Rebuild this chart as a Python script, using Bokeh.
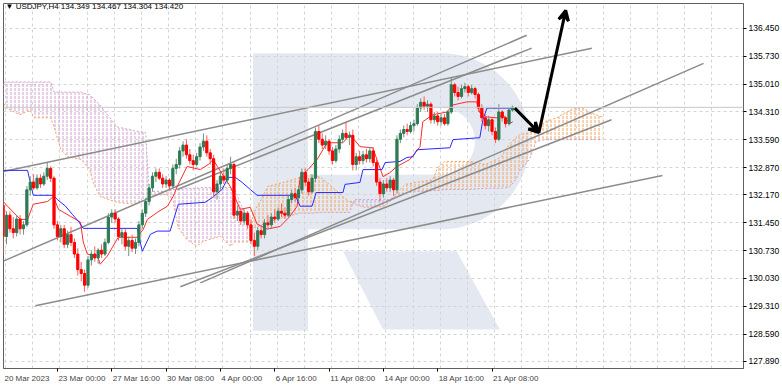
import numpy as np
from bokeh.plotting import figure
from bokeh.models import FixedTicker, Label, Arrow, VeeHead, Span, Range1d, NumeralTickFormatter
from bokeh.embed import file_html
from bokeh.resources import INLINE

# ---------------- data ----------------
bars = list(range(-16, 135))
ohlc = [
    (131.90,132.00,130.60,131.10),(131.10,131.75,130.90,131.65),(131.65,131.75,131.20,131.30),
    (131.30,131.60,131.05,131.20),(131.20,131.65,131.10,131.55),(131.55,131.65,131.15,131.30),
    (131.30,131.50,131.15,131.40),(131.40,132.40,131.35,132.30),(132.30,132.65,132.15,132.50),
    (132.50,132.70,132.30,132.35),(132.35,132.70,132.30,132.60),(132.60,132.70,132.35,132.45),
    (132.45,132.75,132.40,132.65),(132.65,133.00,132.55,132.85),(132.85,132.90,132.50,132.60),
    (132.60,132.65,131.30,131.40),
    (131.40,131.50,131.00,131.10),(131.10,131.40,130.95,131.30),(131.30,131.40,130.80,130.90),
    (130.90,131.25,130.80,131.15),(131.15,131.35,130.85,130.95),(130.95,131.05,130.55,130.65),
    (130.65,130.80,130.10,130.25),(130.25,130.45,129.95,130.15),(130.15,130.25,129.68,129.85),
    (129.85,130.60,129.78,130.50),(130.50,130.75,130.35,130.65),(130.65,130.85,130.45,130.55),
    (130.55,130.80,130.40,130.75),(130.75,130.90,130.55,130.65),(130.65,131.05,130.60,130.95),
    (130.95,131.70,130.90,131.60),(131.60,131.80,131.45,131.70),(131.70,131.80,131.45,131.55),
    (131.55,131.60,131.00,131.10),(131.10,131.30,130.90,131.20),(131.20,131.30,130.75,130.85),
    (130.85,131.10,130.60,131.00),(131.00,131.15,130.70,130.80),(130.80,131.05,130.65,130.95),
    (130.95,131.50,130.85,131.40),(131.40,131.80,131.30,131.70),(131.70,132.10,131.60,132.00),
    (132.00,132.45,131.90,132.35),(132.35,132.75,132.25,132.65),(132.65,132.85,132.50,132.75),
    (132.75,132.85,132.55,132.60),
    (132.60,132.70,132.35,132.45),(132.45,132.65,132.35,132.55),(132.55,132.60,132.30,132.40),
    (132.40,132.95,132.35,132.85),(132.85,133.10,132.70,132.95),(132.95,133.40,132.85,133.30),
    (133.30,133.55,133.15,133.45),(133.45,133.60,133.10,133.20),(133.20,133.35,132.95,133.05),
    (133.05,133.20,132.80,132.95),(132.95,133.25,132.90,133.15),(133.15,133.50,133.05,133.40),
    (133.40,133.75,133.30,133.55),(133.55,133.70,133.15,133.25),(133.25,133.35,132.95,133.10),
    (133.10,133.20,132.10,132.25),(132.25,132.55,132.05,132.45),(132.45,132.75,132.30,132.65),
    (132.65,132.85,132.45,132.55),(132.55,132.95,132.45,132.85),(132.85,133.15,132.70,132.95),
    (132.95,133.00,131.55,131.65),(131.65,131.90,131.50,131.75),(131.75,131.85,131.40,131.50),
    (131.50,131.80,131.40,131.70),(131.70,131.75,131.30,131.40),(131.40,131.55,130.90,131.00),
    (131.00,131.20,130.60,130.85),(130.85,131.35,130.75,131.25),(131.25,131.40,131.05,131.15),
    (131.15,131.55,131.05,131.45),(131.45,131.65,131.30,131.40),(131.40,131.70,131.30,131.60),
    (131.60,131.80,131.45,131.55),(131.55,131.85,131.50,131.75),(131.75,131.95,131.60,131.70),
    (131.70,131.85,131.55,131.65),(131.65,132.15,131.60,132.05),(132.05,132.30,131.95,132.20),
    (132.20,132.35,132.00,132.10),(132.10,132.40,132.00,132.30),(132.30,132.85,132.20,132.75),
    (132.75,132.85,132.40,132.50),(132.50,132.60,132.15,132.25),(132.25,132.70,132.20,132.60),
    (132.60,133.90,132.50,133.80),(133.80,133.95,133.50,133.60),(133.60,133.75,133.35,133.45),
    (133.45,133.70,133.35,133.55),(133.55,133.60,133.20,133.30),(133.30,133.40,132.95,133.05),
    (133.05,133.45,133.00,133.35),(133.35,133.70,133.25,133.60),(133.60,133.85,133.50,133.75),
    (133.75,134.05,133.60,133.65),(133.65,133.80,133.45,133.70),(133.70,133.85,132.80,132.95),
    (132.95,133.25,132.80,133.15),(133.15,133.30,132.95,133.05),(133.05,133.30,132.95,133.20),
    (133.20,133.35,133.00,133.10),(133.10,133.40,133.00,133.30),(133.30,133.40,132.90,133.00),
    (133.00,133.10,132.40,132.50),(132.50,132.60,132.00,132.20),(132.20,132.55,132.10,132.45),
    (132.45,132.60,132.25,132.35),(132.35,132.65,132.25,132.55),(132.55,132.60,132.15,132.30),
    (132.30,133.70,132.20,133.60),(133.60,133.85,133.50,133.75),(133.75,133.95,133.65,133.85),
    (133.85,134.00,133.70,133.80),(133.80,134.05,133.75,133.95),(133.95,134.10,133.80,134.00),
    (134.00,134.50,133.95,134.40),(134.40,134.65,134.30,134.55),(134.55,134.70,134.35,134.45),
    (134.45,134.60,134.30,134.50),(134.50,134.55,134.00,134.10),(134.10,134.30,134.00,134.20),
    (134.20,134.30,133.95,134.05),(134.05,134.25,133.95,134.15),(134.15,134.25,133.95,134.00),
    (134.00,134.35,133.95,134.30),(134.30,135.20,134.25,135.00),(135.00,135.05,134.70,134.80),
    (134.80,134.95,134.60,134.70),(134.70,135.00,134.65,134.90),(134.90,135.05,134.80,134.95),
    (134.95,135.00,134.70,134.80),(134.80,135.00,134.75,134.90),(134.90,134.95,134.65,134.75),
    (134.75,134.80,134.30,134.40),(134.40,134.50,134.05,134.15),(134.15,134.25,133.85,133.95),
    (133.95,134.20,133.80,134.10),(134.10,134.15,133.70,133.80),(133.80,133.90,133.50,133.60),
    (133.60,134.50,133.55,134.30),(134.30,134.35,134.05,134.15),(134.15,134.20,133.90,134.00),
    (134.00,134.40,133.95,134.35),(134.349,134.467,134.304,134.420),
]
opens = [r[0] for r in ohlc]
highs = [r[1] for r in ohlc]
lows = [r[2] for r in ohlc]
closes = [r[3] for r in ohlc]

# Ichimoku lines (bar index, price)
tenkan_x = [-17,-14.7,-10.9,-8.8,-7.1,-2.9,-1.2,0.3,3.8,6.8,7.6,8.8,11.8,12.6,14.7,17.9,23.5,25.3,26.5,29.4,32.4,34.1,35.3,38.2,42.1,44.4,45.9,47.1,50.9,53.8,56.8,58.8,61.8,65.6,68.5,70.6,71.5,73.8,76.5,79.4,84.1,86.2,89.1,92.9,94.1,95.9,97.9,100,103.8,106.8,107.6,110.6,114.7,116.5,120.6,123.5,124.4,126.5,129.4,131.2,133.2,134.1]
tenkan_y = [132.10,131.88,131.54,131.54,131.93,132.00,132.13,131.80,131.62,131.47,130.96,130.65,130.60,130.39,130.60,131.08,131.08,131.29,131.54,131.72,131.88,132.13,132.39,132.90,132.82,132.95,133.08,132.90,132.39,131.80,131.85,131.42,131.29,131.36,131.62,131.88,132.64,132.82,133.08,133.51,133.51,133.72,133.41,133.38,133.08,132.64,132.74,132.90,133.08,133.41,134.05,134.23,134.30,134.48,134.56,134.56,134.28,134.17,134.15,134.23,134.00,134.05]
kijun_x = [-17,-8.8,-7.1,-1.2,0,2.4,4.4,6.2,7.6,23.5,25,27.4,29.4,33.2,35.6,43.5,45.6,48.5,50.3,52.4,54.4,56.8,58.8,70,71.5,75,76.2,84.1,84.7,89.1,90,95.6,96.5,100.9,102.9,104.7,105.9,115.6,116.5,124.4,125.3,126.5,134.1]
kijun_y = [132.80,132.80,132.16,132.16,132.05,131.88,131.67,131.49,131.31,131.31,130.72,131.16,131.24,131.24,131.93,131.98,132.10,132.31,132.62,132.62,132.49,132.31,132.16,132.16,131.88,131.88,132.23,132.23,132.44,132.49,132.82,132.82,133.00,133.03,133.13,133.15,133.33,133.38,133.59,133.64,134.10,134.40,134.40]
cloud_x = [-17,-15,-11,-8,-7,-2,-1,1,3,7,9.5,10.5,12.5,17.5,22.5,26,27,32,34,35.5,38,41,43,45,48,51,52,54,57,57.5,60,62,66.5,71.5,75,77.5,80.5,84,86,87.5,90.5,96,98,100,102.5,107,110.5,112,114,121.5,126,130.5,133,135,136,139,141,143.5,147,152,155,157,160.5]
span_a = [134.69,134.40,134.23,134.35,134.15,134.15,133.92,133.33,133.15,133.08,132.82,132.49,132.13,131.98,131.93,132.05,132.16,132.18,132.05,131.34,131.03,130.85,130.98,131.03,131.11,130.85,130.96,130.96,130.96,131.67,132.05,132.39,132.49,132.62,132.69,132.62,132.41,132.13,132.00,131.93,131.85,131.87,132.00,132.23,132.44,132.51,132.56,132.87,133.03,133.03,132.95,133.13,133.46,133.64,133.71,133.77,133.79,134.05,134.15,134.40,134.40,134.28,134.17]
span_b = [135.07,135.07,135.07,135.07,135.07,135.07,134.81,134.81,134.81,134.81,134.74,134.66,134.48,133.92,133.82,133.77,132.26,132.26,132.31,132.31,132.34,132.34,132.36,132.36,132.36,132.36,132.36,131.93,131.42,131.31,131.39,131.47,131.59,131.70,131.70,131.72,131.72,131.72,131.72,132.05,132.05,132.05,132.05,132.16,132.23,132.26,132.28,132.28,132.31,132.31,132.34,132.34,132.36,132.56,132.77,133.08,133.54,133.59,133.59,133.59,133.59,133.59,133.59]

# analyst trend lines (bar, price) endpoints
trend_x0 = [-15.9,-15.9,35.3,-6.5,42.1,36.2]
trend_y0 = [132.77,130.47,132.31,129.32,129.91,129.81]
trend_x1 = [157.4,138.2,139.7,178.2,190.3,163.2]
trend_y1 = [135.94,136.27,135.94,132.67,135.55,134.10]
arrow_x = [134.7, 141.8, 149.7]
arrow_y = [134.40, 133.77, 136.91]

y_ticks = [127.89,128.59,129.31,130.03,130.73,131.45,132.17,132.87,133.59,134.31,135.01,135.73,136.45]
x_ticks = [-15.88,0,16,32,48,64,80,96,112,128]
x_labels = ["20 Mar 2023","23 Mar 00:00","27 Mar 16:00","30 Mar 08:00","4 Apr 00:00","6 Apr 16:00","11 Apr 08:00","14 Apr 00:00","18 Apr 16:00","21 Apr 08:00"]
last_price = 134.42
title_text = "USDJPY,H4  134.349 134.467 134.304 134.420"

# ---------------- figure ----------------
FONT = "Liberation Sans"
X0, X1 = -15.88, 202.06
FRAME_W = 741
p = figure(width=782, height=385, output_backend="svg", toolbar_location=None,
           x_range=Range1d(X0, X1), y_range=Range1d(127.71, 137.087),
           y_axis_location="right", min_border_left=3, min_border_top=3,
           min_border_right=38, min_border_bottom=15)
p.background_fill_color = "white"
p.border_fill_color = "white"
p.outline_line_color = "#606060"
p.outline_line_width = 1

# watermark "R" (background decoration, in chart units)
wm = "#e4e9f1"
t = np.linspace(np.pi/2, -np.pi/2, 48)
stem_x = [57.6, 73.8, 73.8, 57.6]
stem_y = [135.81, 135.81, 128.68, 128.68]
bowl_x = [73.8] + list(113.1 + 26.0*np.cos(t)) + [73.8]
bowl_y = [135.81] + list(133.55 + 2.261*np.sin(t)) + [131.29]
hole_x = [73.8] + list(113.1 + 9.85*np.cos(t)) + [73.8]
hole_y = [134.40] + list(133.55 + 0.856*np.sin(t)) + [132.69]
leg_x = [84.1, 117.6, 130.3, 95.9]
leg_y = [130.72, 130.72, 128.71, 128.71]
for xs, ys, col in [(stem_x, stem_y, wm), (bowl_x, bowl_y, wm), (hole_x, hole_y, "white"), (leg_x, leg_y, wm)]:
    r = p.patch(xs, ys, fill_color=col, line_color=None)
    r.level = "image"

# axes and grids
p.yaxis.ticker = FixedTicker(ticks=y_ticks)
p.yaxis.formatter = NumeralTickFormatter(format="0.000")
p.yaxis.major_label_text_font = FONT
p.yaxis.major_label_text_font_size = "8.5px"
p.yaxis.major_label_text_color = "black"
p.yaxis.major_tick_out = 3
p.yaxis.major_tick_in = 0
p.yaxis.minor_tick_out = 0
p.yaxis.major_label_standoff = 2
p.yaxis.axis_line_color = "#606060"

# x labels: MT4 draws them left-aligned at the tick, so centre each label half its width to the right
CW = {" ": 0.278, ":": 0.278, "M": 0.833, "A": 0.667, "a": 0.556, "r": 0.333, "p": 0.556}
XFS = 8.0
px_per_bar = FRAME_W / (X1 - X0)
def half_w(s):
    return sum(CW.get(ch, 0.556) for ch in s) * XFS / 2
label_pos = [round(tk + (half_w(s) + 1) / px_per_bar, 3) for tk, s in zip(x_ticks, x_labels)]
p.xaxis.ticker = FixedTicker(ticks=label_pos, minor_ticks=x_ticks[1:])
p.xaxis.major_label_overrides = {k: v for k, v in zip(label_pos, x_labels)}
p.xaxis.major_label_text_font = FONT
p.xaxis.major_label_text_font_size = "8px"
p.xaxis.major_tick_out = 0
p.xaxis.major_tick_in = 0
p.xaxis.minor_tick_out = 3
p.xaxis.minor_tick_in = 0
p.xaxis.major_label_standoff = 2
p.xaxis.axis_line_color = "#606060"
p.xgrid.ticker = FixedTicker(ticks=[k + 0.75 for k in range(-16, 200, 8)])
p.ygrid.ticker = FixedTicker(ticks=y_ticks)
for g in (p.xgrid[0], p.ygrid[0]):
    g.grid_line_color = "#d4d4d4"
    g.grid_line_dash = "3 3"
    g.grid_line_width = 1

# current price line
p.add_layout(Span(location=last_price, dimension="width", line_color="#c8c8c8", line_width=1))

# cloud
a = np.array(span_a); b = np.array(span_b)
top = np.maximum(a, b)
p.varea(x=cloud_x, y1=b, y2=top, fill_color=None, hatch_pattern=":", hatch_color="#f4a460", hatch_scale=4, hatch_weight=1)
p.varea(x=cloud_x, y1=a, y2=top, fill_color=None, hatch_pattern=":", hatch_color="#cf9fcf", hatch_scale=4, hatch_weight=1)
p.line(cloud_x, span_a, line_color="#f4a460", line_dash="2 2", line_width=1)
p.line(cloud_x, span_b, line_color="#cf9fcf", line_dash="2 2", line_width=1)

# trend lines
p.segment(trend_x0, trend_y0, trend_x1, trend_y1, line_color="#8c8c8c", line_width=1.5)

# tenkan / kijun
p.line(tenkan_x, tenkan_y, line_color="#ff2a2a", line_width=1)
p.line(kijun_x, kijun_y, line_color="#2828ff", line_width=1)

# candles
bars_a = np.array(bars); o = np.array(opens); c = np.array(closes); h = np.array(highs); l = np.array(lows)
up = c >= o
dn = ~up
p.segment(bars_a[up], h[up], bars_a[up], l[up], line_color="#6f9483", line_width=1)
p.segment(bars_a[dn], h[dn], bars_a[dn], l[dn], line_color="#ff5a5a", line_width=1)
p.vbar(x=bars_a[up], top=c[up], bottom=o[up], width=0.65, fill_color="#2e7a55", line_color="#2e7a55")
p.vbar(x=bars_a[dn], top=o[dn], bottom=c[dn], width=0.65, fill_color="#ff0000", line_color="#ff0000")

# forecast arrows
p.add_layout(Arrow(end=VeeHead(size=10, line_color="black", line_width=3), x_start=arrow_x[0], y_start=arrow_y[0],
                   x_end=arrow_x[1], y_end=arrow_y[1], line_color="black", line_width=3))
p.add_layout(Arrow(end=VeeHead(size=10, line_color="black", line_width=3), x_start=arrow_x[1], y_start=arrow_y[1],
                   x_end=arrow_x[2], y_end=arrow_y[2], line_color="black", line_width=3))

# title and price label
p.add_layout(Label(x=2, y=362, x_units="screen", y_units="screen", text="\u25bc " + title_text,
                   text_font=FONT, text_font_size="8px", text_color="black", text_baseline="middle"))
p.add_layout(Label(x=742, y=last_price, x_units="screen", y_units="data", text=" 134.420 ",
                   text_font=FONT, text_font_size="8.5px", text_color="white", text_baseline="middle",
                   background_fill_color="black"))

open("out.html", "w").write(file_html(p, INLINE))
